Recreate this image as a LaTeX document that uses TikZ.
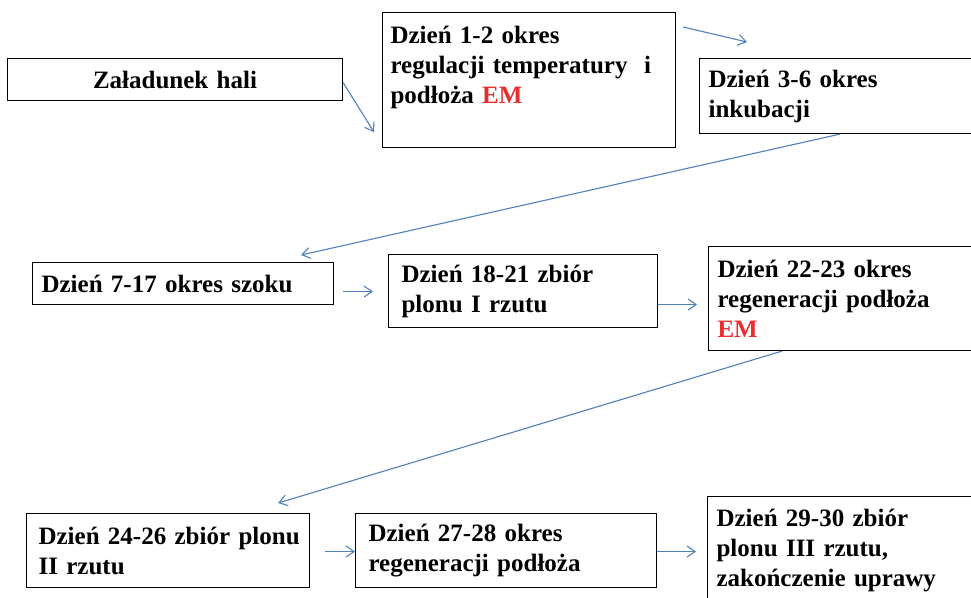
\documentclass[tikz,border=0pt]{standalone}
\usepackage{fontspec}
\setmainfont{Liberation Serif}
\usetikzlibrary{calc,arrows.meta}
\definecolor{flowblue}{RGB}{79,129,189}
\definecolor{emred}{RGB}{235,45,45}
\newcommand{\stagefont}{\bfseries\fontsize{25}{30}\selectfont}
\tikzset{
	stage/.style={draw, line width=1.1pt, anchor=north west, align=left, inner xsep=9pt, font=\stagefont},
	flow/.style={draw=flowblue, line width=1.1pt, -{Straight Barb[length=8pt,width=11pt]}}
}

\begin{document}
\begin{tikzpicture}[x=1pt, y=-1pt]
			%%%%% START %%%%%
			\clip (0, 0) rectangle (971, 597);
			
			\node[stage, align=center, minimum width=335pt, minimum height=42pt, text width=317pt] (hala) at (7, 58) {Załadunek hali};
			\node[stage, inner xsep=8pt, minimum width=293pt, minimum height=135pt, text width=277pt] (d12) at (382, 12) {Dzień 1-2 okres\\ regulacji temperatury\ \ i\\ podłoża \textcolor{emred}{EM}\\ ~};
			\node[stage, minimum width=300pt, minimum height=75pt, text width=282pt] (d36) at (699, 58) {Dzień 3-6 okres\\ inkubacji};
			
			\node[stage, minimum width=301pt, minimum height=42pt, text width=283pt] (d717) at (32, 262) {Dzień 7-17 okres szoku};
			\node[stage, inner xsep=13pt, minimum width=269pt, minimum height=73pt, text width=243pt] (d1821) at (388, 254) {Dzień 18-21 zbiór\\ plonu I rzutu};
			\node[stage, minimum width=290pt, minimum height=104pt, text width=272pt] (d2223) at (708, 246) {Dzień 22-23 okres\\ regeneracji podłoża\\ \textcolor{emred}{EM}};
			
			\node[stage, inner xsep=12pt, minimum width=283pt, minimum height=74pt, text width=259pt] (d2426) at (26, 513) {\mbox{Dzień 24-26 zbiór plonu}\\ II rzutu};
			\node[stage, inner xsep=13pt, minimum width=301pt, minimum height=74pt, text width=275pt] (d2728) at (355, 513) {Dzień 27-28 okres\\ regeneracji podłoża};
			\node[stage, minimum width=290pt, minimum height=133pt, text width=272pt] (d2930) at (707, 496) {Dzień 29-30 zbiór\\ plonu III rzutu,\\ zakończenie uprawy\\ ~};
			
			\draw[flow] ($(hala.east)+(0,3)$) -- ($(d12.south west)+(-8,-16)$);
			\draw[flow] ($(d12.north east)+(7,15)$) -- ($(d36.north west)+(48,-16)$);
			\draw[flow] ($(d36.south west)+(141,0)$) -- ($(d717.north east)+(-33,-7)$);
			
			\draw[flow] ($(d717.east)+(9,8)$) -- ($(d1821.west)+(-15,0.5)$);
			\draw[flow] ($(d1821.east)+(0,13.5)$) -- ($(d2223.west)+(-11,6)$);
			\draw[flow] ($(d2223.south west)+(74,0)$) -- ($(d2426.north east)+(-32,-10)$);
			
			\draw[flow] ($(d2426.east)+(15,1)$) -- ($(d2728.west)+(0,1)$);
			\draw[flow] ($(d2728.east)+(0,1)$) -- ($(d2930.west)+(-11,-11.5)$);
			%%%%% END %%%%%
\end{tikzpicture}
\end{document}
